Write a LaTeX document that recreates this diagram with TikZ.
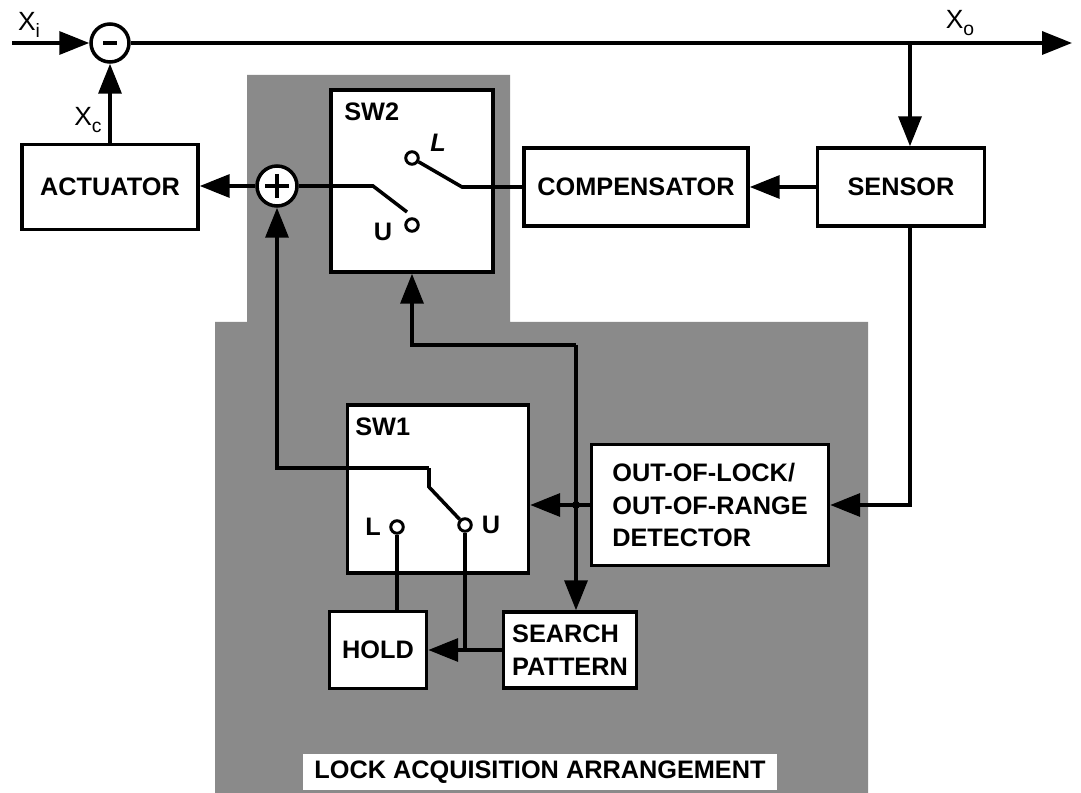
\documentclass[tikz,border=0pt]{standalone}
\usepackage{fontspec}
\setmainfont{Liberation Sans}
\usetikzlibrary{positioning,arrows.meta,calc}
\definecolor{shadegray}{HTML}{8A8A8A}
\tikzset{
    block/.style={rectangle, draw, line width=2pt, fill=white, inner sep=0pt, align=center, font=\fontsize{14.4}{18.5}\selectfont\bfseries},
    sumjunc/.style={circle, draw, line width=2pt, fill=white, inner sep=0pt},
    contact/.style={circle, draw, line width=1.7pt, fill=white, minimum size=0.25cm, inner sep=0pt},
    wire/.style={line width=2pt},
    arrow/.style={wire, -{Triangle[length=0.6cm,width=0.46cm]}},
    sig/.style={inner sep=0pt, font=\fontsize{15}{17}\selectfont},
    swlabel/.style={inner sep=0pt, font=\fontsize{14.4}{16}\selectfont\bfseries}
}
\begin{document}
\begin{tikzpicture}[x=0.02cm, y=-0.02cm]
\useasboundingbox (0,0) rectangle (1081,793);

% Lock acquisition area
\fill[shadegray] (247,75) -- (510,75) -- (510,322) -- (868,322) -- (868,793)
    -- (215,793) -- (215,322) -- (247,322) -- cycle;
\node[fill=white, inner sep=0pt, minimum width=9.5cm, minimum height=0.72cm,
    font=\fontsize{14.4}{16}\selectfont\bfseries] (caption) at (540,772) {LOCK ACQUISITION ARRANGEMENT};

% Main loop
\node[sumjunc, minimum size=0.76cm] (minus) at (110,43) {};
\draw[wire] ($(minus)+(-7,0)$) -- ($(minus)+(7,0)$);
\node[sumjunc, minimum size=0.8cm] (plus) at (277,186) {};
\draw[wire] ($(plus)+(-12,0)$) -- ($(plus)+(12,0)$) ($(plus)+(0,-12)$) -- ($(plus)+(0,12)$);

\node[block, minimum width=3.52cm, minimum height=1.7cm] (actuator) at (110,187) {ACTUATOR};
\node[block, minimum width=3.24cm, minimum height=3.64cm] (sw2) at (412,181) {};
\node[block, minimum width=4.48cm, minimum height=1.56cm] (comp) at (636,187) {COMPENSATOR};
\node[block, minimum width=3.34cm, minimum height=1.56cm] (sensor) at (901,187) {SENSOR};

% Lock acquisition blocks
\node[block, minimum width=3.62cm, minimum height=3.36cm] (sw1) at (438,489) {};
\node[block, minimum width=4.74cm, minimum height=2.42cm, align=left] (det) at (710,505) {OUT-OF-LOCK/\\OUT-OF-RANGE\\DETECTOR};
\node[block, minimum width=1.94cm, minimum height=1.54cm] (hold) at (378,650) {HOLD};
\node[block, minimum width=2.66cm, minimum height=1.52cm, align=left] (search) at (570,650) {SEARCH\\PATTERN};

\node[swlabel, anchor=west] at (344,112) {SW2};
\node[swlabel, anchor=west] at (355,427) {SW1};

% Signal labels
\node[sig] (xi) at (29,25) {X\raisebox{-0.45ex}{\fontsize{11}{12}\selectfont i}};
\node[sig] (xo) at (960,23) {X\raisebox{-0.45ex}{\fontsize{11}{12}\selectfont o}};
\node[sig] (xc) at (88,120) {X\raisebox{-0.45ex}{\fontsize{11}{12}\selectfont c}};

% Switch contacts
\node[contact] (sw2L) at (412,158) {};
\node[contact] (sw2U) at (412,225) {};
\node[swlabel] at (438,143) {\itshape L};
\node[swlabel] at (383,232) {U};
\node[contact] (sw1L) at (397,527) {};
\node[contact] (sw1U) at (465,525) {};
\node[swlabel] at (373,527) {L};
\node[swlabel] at (491,525) {U};

\coordinate (in) at (12,43);
\coordinate (out) at (1072,43);
\coordinate (tap) at (910,43);
\coordinate (sw2piv) at (373,186);
\coordinate (sw2Lpiv) at (462,187);
\coordinate (sw1in) at (277,468);
\coordinate (sw1piv) at (429,468);
\coordinate (ctl) at (576,345);
\coordinate (jct) at (ctl |- det.west);

% Connectors
\draw[arrow] (in) -- (minus.west);
\draw[arrow] (minus.east) -- (out);
\draw[arrow] (tap) -- (tap |- sensor.north);
\draw[arrow] (sensor.west) -- (comp.east);
\draw[wire] (comp.west) -- (sw2Lpiv) -- (sw2L);
\draw[wire] (plus.east) -- (sw2piv) -- (407,212);
\draw[arrow] (plus.west) -- (plus.west -| actuator.east);
\draw[arrow] (actuator.north) -- (minus.south);
\draw[arrow] (tap |- sensor.south) -- (tap |- det.east) -- (det.east);
\draw[arrow] (det.west) -- (det.west -| sw1.east);
\fill (jct) circle (4);
\draw[arrow] (ctl) -- (ctl |- search.north);
\draw[arrow] (ctl) -- (sw2.south |- ctl) -- (sw2.south);
\draw[arrow] (sw1piv) -- (sw1in) -- (plus.south);
\draw[wire] (sw1piv) -- (429,487) -- (sw1U);
\draw[wire] (sw1L) -- (sw1L |- hold.north);
\draw[wire] (sw1U) -- (sw1U |- hold.east);
\draw[arrow] (search.west) -- (hold.east);

\end{tikzpicture}
\end{document}
